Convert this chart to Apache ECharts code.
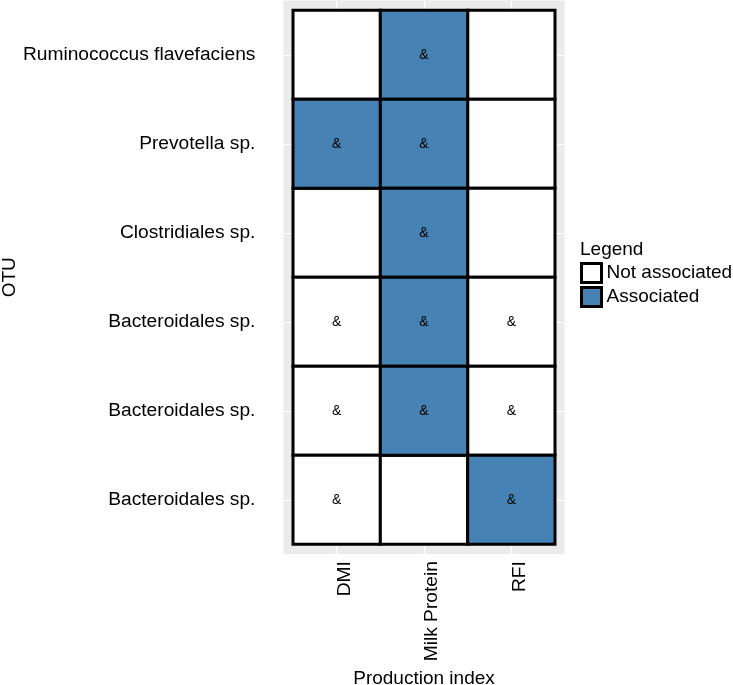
<!DOCTYPE html>
<html>
<head>
<meta charset="utf-8">
<script src="https://cdn.jsdelivr.net/npm/echarts@6/dist/echarts.min.js"></script>
<style>html,body{margin:0;padding:0;background:#fff}#c{width:733px;height:685px}</style>
</head>
<body>
<div id="c"></div>
<script>
// ---- data ----
const productionIndex = ['DMI', 'Milk Protein', 'RFI'];
const otu = ['Ruminococcus flavefaciens', 'Prevotella sp.', 'Clostridiales sp.', 'Bacteroidales sp.', 'Bacteroidales sp.', 'Bacteroidales sp.'];
// 1 = Associated, 0 = Not associated (rows follow otu, columns follow productionIndex)
const association = [
  [0, 1, 0],
  [1, 1, 0],
  [0, 1, 0],
  [0, 1, 0],
  [0, 1, 0],
  [0, 0, 1]
];
const marks = [
  ['', '&', ''],
  ['&', '&', ''],
  ['', '&', ''],
  ['&', '&', '&'],
  ['&', '&', '&'],
  ['&', '', '&']
];
const legendNames = ['Not associated', 'Associated'];

// ---- build ----
const FONT = 'Liberation Sans, Arial, Helvetica, sans-serif';
const colors = ['#ffffff', '#4682b4'];
const PAD = 0.11;
const seriesData = [[], []];
association.forEach((row, yi) => row.forEach((v, xi) => seriesData[v].push([xi, yi])));

function renderCell(color) {
  return function (params, api) {
    const x = api.value(0), y = api.value(1);
    const p0 = api.coord([x - 0.5, y - 0.5]);
    const p1 = api.coord([x + 0.5, y + 0.5]);
    const rx = Math.min(p0[0], p1[0]), ry = Math.min(p0[1], p1[1]);
    const w = Math.abs(p1[0] - p0[0]), h = Math.abs(p1[1] - p0[1]);
    return {
      type: 'group',
      children: [
        { type: 'rect', shape: { x: rx, y: ry, width: w, height: h },
          style: { fill: color, stroke: '#000', lineWidth: 3 } },
        { type: 'text', z2: 10,
          style: { text: marks[y][x], x: rx + w / 2, y: ry + h / 2, align: 'center', verticalAlign: 'middle',
                   fontSize: 14, fontFamily: FONT, fill: '#000' } }
      ]
    };
  };
}

const chart = echarts.init(document.getElementById('c'));
chart.setOption({
  animation: false,
  backgroundColor: '#fff',
  title: {
    text: 'Legend', left: 575, top: 235,
    textStyle: { fontSize: 19, fontWeight: 'normal', fontFamily: FONT, color: '#000' }
  },
  legend: {
    data: legendNames,
    orient: 'vertical', left: 580, top: 262, padding: 0,
    itemWidth: 20, itemHeight: 19, itemGap: 2,
    icon: 'rect',
    itemStyle: { borderColor: '#000', borderWidth: 3 },
    textStyle: { fontSize: 19, fontFamily: FONT, color: '#000', lineHeight: 19 },
    selectedMode: false
  },
  grid: {
    left: 283.4, top: 0.5, width: 281.2, height: 553.6,
    outerBoundsMode: 'none', containLabel: false,
    show: true, backgroundColor: '#ebebeb', borderWidth: 0
  },
  xAxis: {
    type: 'value', min: -0.5 - PAD, max: productionIndex.length - 0.5 + PAD,
    name: 'Production index', nameLocation: 'middle', nameGap: 110,
    nameTextStyle: { fontSize: 19, fontFamily: FONT, color: '#000' },
    axisLine: { show: false },
    axisTick: { show: true, length: 4, customValues: productionIndex.map((_, i) => i), lineStyle: { color: '#333', width: 1.2 } },
    axisLabel: { customValues: productionIndex.map((_, i) => i), formatter: v => productionIndex[Math.round(v)],
      rotate: 90, margin: 7, verticalAlign: 'top', lineHeight: 16, fontSize: 19.2, fontFamily: FONT, color: '#000' },
    splitLine: { show: true, lineStyle: { color: '#ffffff', width: 1.2 } }
  },
  yAxis: {
    type: 'value', inverse: true, min: -0.5 - PAD, max: otu.length - 0.5 + PAD,
    name: 'OTU', nameLocation: 'middle', nameGap: 264,
    nameTextStyle: { fontSize: 19, fontFamily: FONT, color: '#000' },
    axisLine: { show: false },
    axisTick: { show: true, length: 4, customValues: otu.map((_, i) => i), lineStyle: { color: '#333', width: 1.2 } },
    axisLabel: { customValues: otu.map((_, i) => i), formatter: v => otu[Math.round(v)],
      margin: 28, fontSize: 19.2, fontFamily: FONT, color: '#000' },
    splitLine: { show: true, lineStyle: { color: '#ffffff', width: 1.2 } }
  },
  series: legendNames.map((name, k) => ({
    name: name,
    type: 'custom',
    itemStyle: { color: colors[k], borderColor: '#000', borderWidth: 3 },
    encode: { x: 0, y: 1 },
    renderItem: renderCell(colors[k]),
    data: seriesData[k]
  }))
});
</script>
</body>
</html>
